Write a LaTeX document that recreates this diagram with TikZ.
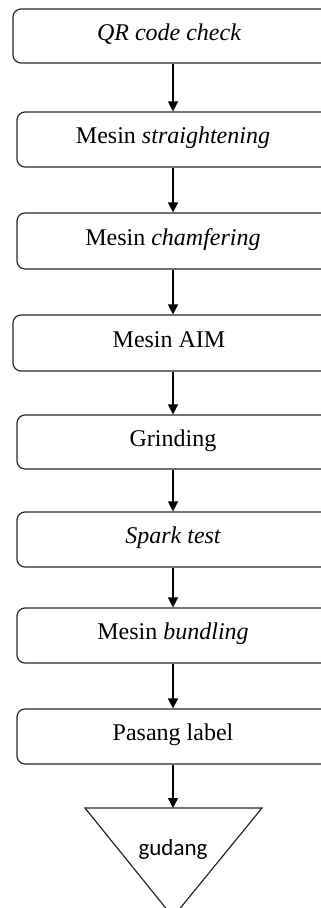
\documentclass[tikz,border=0pt]{standalone}
\usepackage{fontspec}
\setmainfont{Liberation Serif}
\newfontfamily\calib{Carlito}
\usetikzlibrary{arrows.meta}
\begin{document}
\begin{tikzpicture}[x=1pt,y=-1pt,
  procbox/.style={draw=black!85, line width=1.2pt, rounded corners=8pt, inner sep=0pt,
    minimum width=312pt, text height=16.5pt, text depth=8.5pt, font=\fontsize{24}{28}\selectfont},
  flow/.style={draw=black, line width=1.4pt, -{Triangle[length=10pt,width=10pt]}}]
\useasboundingbox (0,0) rectangle (321,908);
\clip (0,0) rectangle (321,908);
\node[procbox, minimum width=320pt, minimum height=54pt] (b1) at (173,36) {\hspace*{-8pt}\itshape QR code check};
\node[procbox, minimum height=55pt] (b2) at (173,139.5) {Mesin \textit{straightening}};
\node[procbox, minimum height=56pt] (b3) at (173,241) {Mesin \textit{chamfering}};
\node[procbox, minimum width=320pt, minimum height=56pt] (b4) at (173,343) {\hspace*{-8pt}Mesin AIM};
\node[procbox, minimum height=54pt] (b5) at (173,442) {Grinding};
\node[procbox, minimum height=55pt] (b6) at (173,539.5) {\itshape Spark test};
\node[procbox, minimum height=55pt] (b7) at (173,635.5) {Mesin \textit{bundling}};
\node[procbox, minimum height=55pt] (b8) at (173,736.5) {Pasang label};
\coordinate (gtop) at (173,808);
\draw[black!85, line width=1.2pt, line join=miter] (85,808) -- (262,808) -- (173,917) -- cycle;
\node[inner sep=0pt, font=\calib\fontsize{23}{27}\selectfont, anchor=base] (gud) at (173,855) {gudang};
\draw[flow] (b1.south) -- (b2.north);
\draw[flow] (b2.south) -- (b3.north);
\draw[flow] (b3.south) -- (b4.north);
\draw[flow] (b4.south) -- (b5.north);
\draw[flow] (b5.south) -- (b6.north);
\draw[flow] (b6.south) -- (b7.north);
\draw[flow] (b7.south) -- (b8.north);
\draw[flow] (b8.south) -- (gtop);
\end{tikzpicture}
\end{document}
